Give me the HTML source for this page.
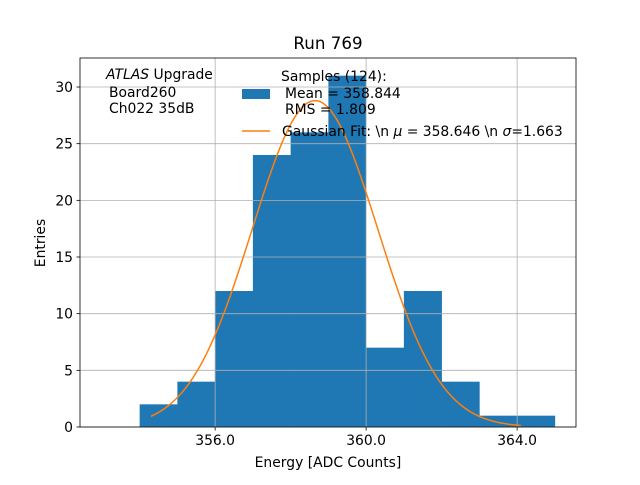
<!DOCTYPE html>
<html><head><meta charset="utf-8"><style>
body{margin:0;background:#fff}
svg{font-family:"DejaVu Sans","Liberation Sans",sans-serif;font-size:13.9px}
</style></head><body>
<svg id="c" width="640" height="480"></svg>
<script>
const binStarts=[354,355,356,357,358,359,360,361,362,363,364];
const counts=[2,4,12,24,26,31,7,12,4,1,1];
const xTicks=[356,360,364];
const xTickLabels=["356.0","360.0","364.0"];
const yTicks=[0,5,10,15,20,25,30];
const fitAmp=[28.8];
const fitMu=[358.646];
const fitSigma=[1.663];
const fitRange=[354.3,364.1];
const L=80,R=576,T=58,B=427;
const xmin=352.42,xmax=365.56,ymin=0,ymax=32.56;
const X=v=>L+(v-xmin)/(xmax-xmin)*(R-L);
const Y=v=>B-(v-ymin)/(ymax-ymin)*(B-T);
const s=document.getElementById('c');const NS="http://www.w3.org/2000/svg";
function el(t,a,txt){const e=document.createElementNS(NS,t);for(const k in a)e.setAttribute(k,a[k]);if(txt!==undefined)e.textContent=txt;s.appendChild(e);return e;}
binStarts.forEach((b,i)=>{const r=el('rect',{x:X(b),y:Y(counts[i]),width:X(b+1)-X(b)+0.3,height:Y(0)-Y(counts[i]),fill:'#1f77b4'});

});
xTicks.forEach((t,i)=>{const g=el('line',{x1:X(t),x2:X(t),y1:T,y2:B,stroke:'#b0b0b0','stroke-width':0.8});


el('line',{x1:X(t),x2:X(t),y1:B,y2:B+3.5,stroke:'#000','stroke-width':0.8});
const tl=el('text',{x:X(t),y:B+18,'text-anchor':'middle'},xTickLabels[i]);

});
yTicks.forEach(t=>{const g=el('line',{x1:L,x2:R,y1:Y(t),y2:Y(t),stroke:'#b0b0b0','stroke-width':0.8});


el('line',{x1:L-3.5,x2:L,y1:Y(t),y2:Y(t),stroke:'#000','stroke-width':0.8});
const tl=el('text',{x:L-7,y:Y(t)+5,'text-anchor':'end'},String(t));

});
let d='';for(let i=0;i<=200;i++){const x=fitRange[0]+(fitRange[1]-fitRange[0])*i/200;const y=fitAmp[0]*Math.exp(-Math.pow(x-fitMu[0],2)/(2*fitSigma[0]*fitSigma[0]));d+=(i?'L':'M')+X(x).toFixed(2)+','+Y(y).toFixed(2);}
const fp=el('path',{d:d,fill:'none',stroke:'#ff7f0e','stroke-width':1.5});


el('rect',{x:L,y:T,width:R-L,height:B-T,fill:'none',stroke:'#000','stroke-width':0.8});
</script>
<svg width="640" height="480" style="position:absolute;left:0;top:0" font-family="DejaVu Sans, Liberation Sans, sans-serif" font-size="13.9">
<text x="328" y="49" text-anchor="middle" font-size="16.7">Run 769</text>
<text x="328" y="467" text-anchor="middle">Energy [ADC Counts]</text>
<text transform="translate(45,243) rotate(-90)" text-anchor="middle">Entries</text>
<g>
<text x="106" y="79"><tspan font-style="italic">ATLAS</tspan> Upgrade</text>
<text x="109" y="97">Board260</text>
<text x="109" y="113">Ch022 35dB</text>
</g>
<g>
<text x="281" y="81">Samples (124):</text>
<rect x="242" y="89" width="28" height="10" fill="#1f77b4"/>
<text x="285" y="98">Mean = 358.844</text>
<text x="285" y="114">RMS = 1.809</text>
<line x1="242" x2="270" y1="131" y2="131" stroke="#ff7f0e" stroke-width="1.5"/>
<text x="282" y="136">Gaussian Fit: \n <tspan font-style="italic">μ</tspan> = 358.646 \n <tspan font-style="italic">σ</tspan>=1.663</text>
</g>
</svg>
</body></html>
